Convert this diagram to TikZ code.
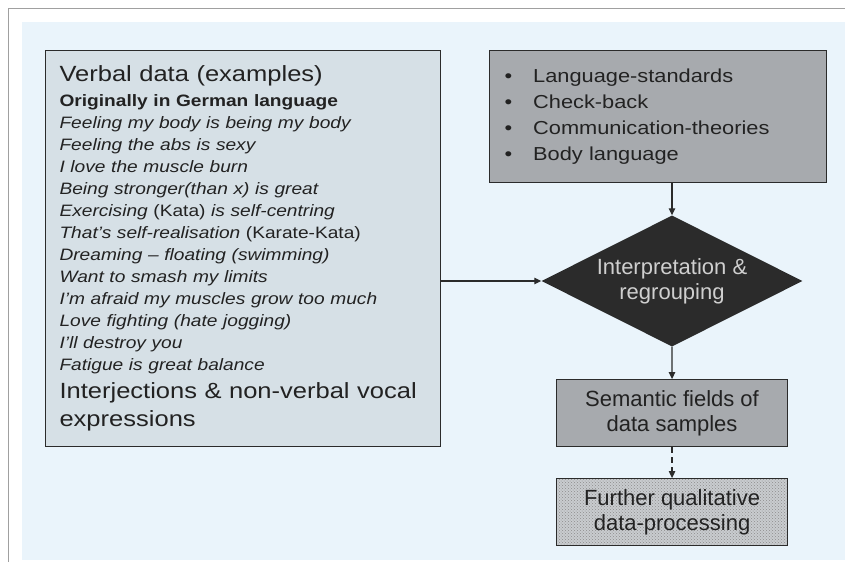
\documentclass[tikz,border=0pt]{standalone}
\usepackage{fontspec}
\setmainfont{Liberation Sans}
\newfontfamily\widefont{Liberation Sans}[FakeStretch=1.16]
\newcommand\wordgap{\spaceskip=0.34em\relax}
\definecolor{mypanel}{HTML}{EAF4FB}
\definecolor{myframe}{HTML}{A0A0A0}
\definecolor{myleft}{HTML}{D6E0E6}
\definecolor{mygrey}{HTML}{A7AAAE}
\definecolor{mydark}{HTML}{2B2B2B}
\definecolor{mydots}{HTML}{C9CCCF}
\definecolor{mytext}{HTML}{222222}
\definecolor{mylight}{HTML}{CFCFCF}
\usetikzlibrary{shapes.geometric,patterns,arrows.meta}
\usetikzlibrary{positioning}

\tikzset{
  box/.style={draw=mydark, line width=1.1pt, text=mytext, inner sep=0pt},
  flow/.style={draw=mydark, line width=1.2pt, -{Triangle[length=7pt,width=6.5pt]}}
}

\begin{document}
\begin{tikzpicture}[x=1pt,y=-1pt]
        \useasboundingbox (0,0) rectangle (845,562);
        % Zones
        \fill[white] (0,0) rectangle (845,562);
        \draw[myframe,line width=0.8pt] (8,562) -- (8,8) -- (845,8);
        \fill[mypanel] (22,22) rectangle (845,560);

        % Boxes
        \node[box, fill=myleft, anchor=north west, minimum width=395pt, minimum height=396pt,
              text width=367pt, align=left, inner xsep=14pt, font=\widefont] (verbal) at (45,50) {%
          {\fontsize{22}{25}\selectfont\wordgap Verbal data (examples)\par}
          {\fontsize{16.5}{25}\selectfont\bfseries\wordgap Originally in German language\par}
          {\fontsize{16.5}{22}\selectfont\itshape\wordgap
           Feeling my body is being my body\\
           Feeling the abs is sexy\\
           I love the muscle burn\\
           Being stronger(than x) is great\\
           Exercising \textup{(Kata)} is self-centring\\
           That’s self-realisation \textup{(Karate-Kata)}\\
           Dreaming – floating (swimming)\\
           Want to smash my limits\\
           I’m afraid my muscles grow too much\\
           Love fighting (hate jogging)\\
           I’ll destroy you\\
           Fatigue is great balance\par}
          {\fontsize{22}{28}\selectfont\wordgap Interjections \& non-verbal vocal\\ expressions\par}};

        \node[box, fill=mygrey, anchor=north west, minimum width=331pt, minimum height=132pt,
              text width=307pt, align=left, inner xsep=15pt, font=\widefont\fontsize{18.8}{26}\selectfont\wordgap] (checks) at (489,50) {%
          \textbullet\hskip 21pt Language-standards\\
          \textbullet\hskip 21pt Check-back\\
          \textbullet\hskip 21pt Communication-theories\\
          \textbullet\hskip 21pt Body language};

        \node[diamond, fill=mydark, text=mylight, aspect=2, inner sep=0pt,
              minimum width=261pt, minimum height=131pt, align=center,
              font=\fontsize{22}{25}\selectfont] (interp) at (672,281) {Interpretation \&\\ regrouping};

        \node[box, fill=mygrey, anchor=north west, minimum width=231pt, minimum height=67pt,
              align=center, font=\fontsize{22}{25}\selectfont] (fields) at (556,379) {Semantic fields of\\ data samples};

        \node[box, preaction={fill=mydots}, pattern=crosshatch dots, pattern color=black!45,
              anchor=north west, minimum width=231pt, minimum height=67pt,
              align=center, font=\fontsize{22}{25}\selectfont] (further) at (556,478) {Further qualitative\\ data-processing};

        % Connectors
        \draw[flow] (verbal.east |- interp.west) -- (interp.west);
        \draw[flow] (interp.north |- checks.south) -- (interp.north);
        \draw[flow] (interp.south) -- (fields.north);
        \draw[flow, dash pattern=on 6pt off 4pt] (fields.south) -- (further.north);
\end{tikzpicture}
\end{document}
